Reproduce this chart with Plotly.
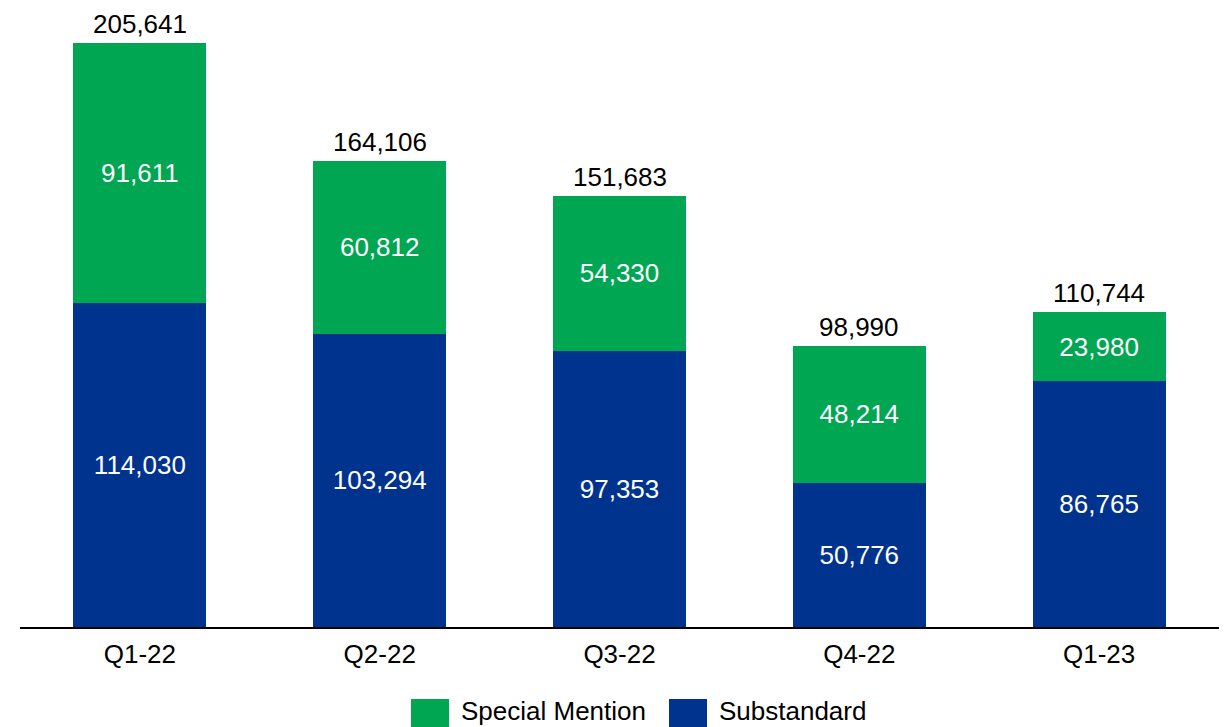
import plotly.graph_objects as go

quarters = ["Q1-22", "Q2-22", "Q3-22", "Q4-22", "Q1-23"]
substandard = [114030, 103294, 97353, 50776, 86765]
special_mention = [91611, 60812, 54330, 48214, 23980]
totals = [205641, 164106, 151683, 98990, 110744]

GREEN = "#00A651"
BLUE = "#00338D"
FONT = "Arial, Liberation Sans, sans-serif"

fig = go.Figure()
fig.add_bar(
    x=quarters, y=substandard, name="Substandard",
    marker=dict(color=BLUE, line=dict(width=0)),
    text=[f"{v:,}" for v in substandard], textposition="inside",
    insidetextanchor="middle", textangle=0,
    textfont=dict(size=26, color="white", family=FONT),
    constraintext="none", showlegend=False,
)
fig.add_bar(
    x=quarters, y=special_mention, name="Special Mention",
    marker=dict(color=GREEN, line=dict(width=0)),
    text=[f"{v:,}" for v in special_mention], textposition="inside",
    insidetextanchor="middle", textangle=0,
    textfont=dict(size=26, color="white", family=FONT),
    constraintext="none", showlegend=False,
)

# totals above each stack
for q, t in zip(quarters, totals):
    fig.add_annotation(x=q, y=t, text=f"{t:,}", showarrow=False,
                       yanchor="bottom", yshift=2,
                       font=dict(size=26, color="black", family=FONT))

# custom legend with large swatches
legend_items = [("Special Mention", GREEN, 411), ("Substandard", BLUE, 669)]
W, H = 1225, 727
for label, color, x0 in legend_items:
    fig.add_shape(type="rect", xref="paper", yref="paper",
                  x0=(x0 - 20) / 1199, x1=(x0 + 38 - 20) / 1199,
                  y0=-(727 - 627) / 627, y1=-(699 - 627) / 627,
                  fillcolor=color, line=dict(width=0), layer="above")
    fig.add_annotation(xref="paper", yref="paper",
                       x=(x0 + 48 - 20) / 1199, y=-(711 - 627) / 627,
                       xanchor="left", yanchor="middle", text=label,
                       showarrow=False,
                       font=dict(size=26, color="black", family=FONT))

fig.update_layout(
    width=W, height=H,
    barmode="stack", bargap=0.445,
    margin=dict(l=20, r=6, t=0, b=100),
    plot_bgcolor="white", paper_bgcolor="white",
    font=dict(family=FONT, size=26, color="black"),
    showlegend=False,
    xaxis=dict(showline=True, linecolor="black", linewidth=2,
               ticks="outside", ticklen=3, tickcolor="rgba(0,0,0,0)",
               tickfont=dict(size=26, color="black", family=FONT)),
    yaxis=dict(range=[0, 220777], visible=False, showgrid=False, zeroline=False),
)

fig.write_html("out.html")
